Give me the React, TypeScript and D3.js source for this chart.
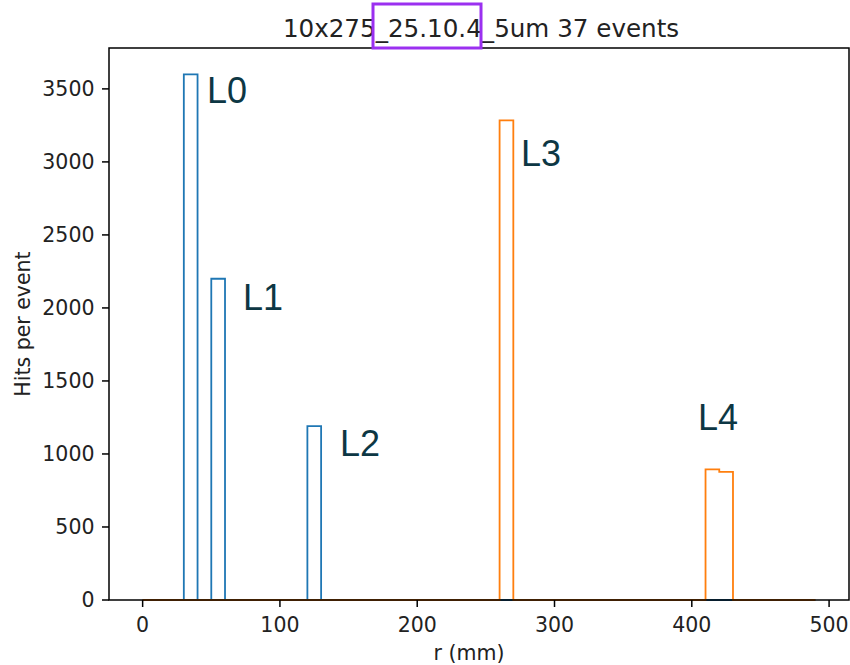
import React from "react";
import * as d3 from "d3";

const titleText = "10x275_25.10.4_5um 37 events";
const xLabel = "r (mm)";
const yLabel = "Hits per event";

const histRange = [0, 490];
const binWidth = 10;

const blueBinStarts = [30, 50, 120];
const blueValues = [3600, 2200, 1190];

const orangeBinStarts = [260, 410, 420];
const orangeValues = [3285, 895, 877];

const xTicks = [0, 100, 200, 300, 400, 500];
const yTicks = [0, 500, 1000, 1500, 2000, 2500, 3000, 3500];

const layerLabels = ["L0", "L1", "L2", "L3", "L4"];
const layerLabelX = [46.9, 73.1, 143.8, 275.6, 404.5];
const layerLabelY = [3403, 1986, 986, 2972, 1164];

const W = 850;
const H = 665;
const left = 109;
const right = 849;
const top = 48;
const bottom = 600;

const x = d3.scaleLinear().domain([-24.5, 514.5]).range([left, right]);
const y = d3.scaleLinear().domain([0, 3780]).range([bottom, top]);

function stepPoints(starts: number[], values: number[]): [number, number][] {
  const pts: [number, number][] = [[histRange[0], 0]];
  let prevEnd = -Infinity;
  let prevVal = 0;
  starts.forEach((s, i) => {
    const v = values[i];
    if (s !== prevEnd) {
      pts.push([s, 0]);
    } else {
      pts.push([s, prevVal]);
    }
    pts.push([s, v]);
    pts.push([s + binWidth, v]);
    prevEnd = s + binWidth;
    prevVal = v;
    const next = starts[i + 1];
    if (next !== prevEnd) {
      pts.push([prevEnd, 0]);
    }
  });
  pts.push([histRange[1], 0]);
  return pts;
}

const line = d3
  .line<[number, number]>()
  .x((d) => x(d[0]))
  .y((d) => y(d[1]));

const tickFont = "DejaVu Sans";
const fs = 20.5;

export default function App() {
  const bluePath = line(stepPoints(blueBinStarts, blueValues)) || "";
  const orangePath = line(stepPoints(orangeBinStarts, orangeValues)) || "";
  const titleX = (left + right) / 2;
  return (
    <svg
      width={W}
      height={H}
      style={{ position: "absolute", left: 0, top: 0, background: "#fff" }}
      fontFamily={tickFont}
    >
      <rect x={0} y={0} width={W} height={H} fill="#fff" />
      <path d={bluePath} fill="none" stroke="#1f77b4" strokeWidth={1.8} />
      <path d={orangePath} fill="none" stroke="#ff7f0e" strokeWidth={1.8} />
      <rect
        x={left}
        y={top}
        width={right - left}
        height={bottom - top}
        fill="none"
        stroke="#000"
        strokeWidth={1.5}
      />
      {xTicks.map((t) => (
        <g key={"x" + t}>
          <line x1={x(t)} x2={x(t)} y1={bottom} y2={bottom + 7} stroke="#000" strokeWidth={1.5} />
          <text x={x(t)} y={bottom + 32} textAnchor="middle" fontSize={fs} fill="#222">
            {t}
          </text>
        </g>
      ))}
      {yTicks.map((t) => (
        <g key={"y" + t}>
          <line x1={left - 7} x2={left} y1={y(t)} y2={y(t)} stroke="#000" strokeWidth={1.5} />
          <text x={left - 14.5} y={y(t) + 7.4} textAnchor="end" fontSize={fs} fill="#222">
            {t}
          </text>
        </g>
      ))}
      <text x={titleX - 10} y={bottom + 60} textAnchor="middle" fontSize={fs} fill="#222">
        {xLabel}
      </text>
      <text
        transform={`translate(30, ${(top + bottom) / 2}) rotate(-90)`}
        textAnchor="middle"
        fontSize={fs}
        fill="#222"
      >
        {yLabel}
      </text>
      <text x={titleX + 2} y={37} textAnchor="middle" fontSize={24.6} fill="#222">
        {titleText}
      </text>
      <rect x={373} y={4} width={108} height={44} fill="none" stroke="#9b30f0" strokeWidth={3} />
      {layerLabels.map((l, i) => (
        <text
          key={l}
          x={x(layerLabelX[i])}
          y={y(layerLabelY[i])}
          fontFamily="Liberation Sans"
          fontSize={36}
          fill="#0d3744"
        >
          {l}
        </text>
      ))}
    </svg>
  );
}
